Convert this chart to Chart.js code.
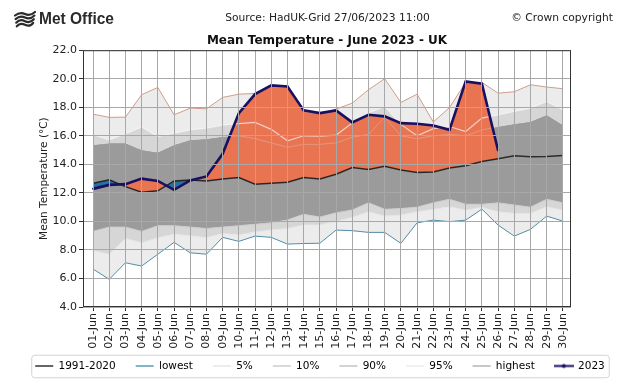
<!DOCTYPE html>
<html>
<head>
<meta charset="utf-8">
<script src="https://cdn.jsdelivr.net/npm/chart.js@4.4.1/dist/chart.umd.min.js"></script>
<style>
html, body { margin: 0; padding: 0; background: #fff; }
#wrap { width: 640px; height: 384px; }
</style>
</head>
<body>
<div id="wrap"><canvas id="chart" width="640" height="384"></canvas></div>
<script>
// days of June along the x axis
var days = ['01-Jun', '02-Jun', '03-Jun', '04-Jun', '05-Jun', '06-Jun', '07-Jun', '08-Jun', '09-Jun', '10-Jun',
  '11-Jun', '12-Jun', '13-Jun', '14-Jun', '15-Jun', '16-Jun', '17-Jun', '18-Jun', '19-Jun', '20-Jun',
  '21-Jun', '22-Jun', '23-Jun', '24-Jun', '25-Jun', '26-Jun', '27-Jun', '28-Jun', '29-Jun', '30-Jun'];

// daily values (deg C)
var mean9120 = [12.68, 12.91, 12.44, 12.05, 12.14, 12.84, 12.91, 12.84, 12.98, 13.08, 12.61, 12.68, 12.75, 13.08, 12.98,
  13.31, 13.78, 13.64, 13.87, 13.61, 13.43, 13.47, 13.75, 13.9, 14.2, 14.39, 14.6, 14.53, 14.55, 14.62];
var lowest = [6.66, 5.94, 7.1, 6.87, 7.7, 8.53, 7.8, 7.7, 8.88, 8.6, 8.97, 8.88, 8.41, 8.45, 8.47,
  9.39, 9.35, 9.23, 9.23, 8.46, 9.9, 10.09, 9.98, 10.09, 10.86, 9.74, 8.97, 9.44, 10.37, 10.02];
var pct5 = [7.95, 7.7, 8.8, 8.5, 8.85, 9.1, 9.0, 8.85, 9.15, 9.05, 9.25, 9.4, 9.5, 9.75, 9.75,
  10.0, 10.28, 10.67, 10.37, 10.44, 10.67, 10.84, 11.02, 10.79, 10.98, 10.67, 10.56, 10.56, 11.02, 10.79];
var pct10 = [9.3, 9.6, 9.6, 9.3, 9.7, 9.7, 9.6, 9.5, 9.6, 9.7, 9.8, 9.9, 10.1, 10.5, 10.3,
  10.6, 10.8, 11.3, 10.85, 10.9, 11.0, 11.3, 11.55, 11.2, 11.2, 11.3, 11.15, 11.0, 11.55, 11.3];
var pct90 = [15.37, 15.49, 15.49, 15.02, 14.85, 15.37, 15.72, 15.79, 15.95, 16.0, 15.8, 15.5, 15.2, 15.4, 15.4,
  15.5, 15.9, 16.1, 17.3, 16.0, 15.8, 16.0, 16.1, 16.0, 16.4, 16.65, 16.84, 17.0, 17.47, 16.77];
var pct95 = [16.07, 15.72, 16.14, 16.61, 15.95, 16.19, 16.42, 16.54, 16.75, 16.85, 16.94, 16.45, 15.65, 16.0, 15.98,
  16.05, 16.9, 17.6, 18.06, 16.8, 16.0, 16.5, 16.65, 16.3, 17.24, 17.47, 17.71, 17.94, 18.41, 17.82];
var highest = [17.52, 17.29, 17.31, 18.88, 19.39, 17.47, 17.94, 17.89, 18.69, 18.92, 18.97, 19.45, 19.4, 17.7, 17.55,
  17.87, 18.29, 19.23, 20.0, 18.34, 18.92, 16.97, 17.98, 19.75, 19.74, 18.99, 19.09, 19.58, 19.42, 19.3];
var temp2023 = [12.28, 12.56, 12.61, 13.0, 12.84, 12.21, 12.87, 13.15, 14.74, 17.59, 18.92, 19.53, 19.46, 17.78, 17.59,
  17.78, 16.94, 17.47, 17.36, 16.89, 16.84, 16.72, 16.42, 19.81, 19.65, 14.97, null, null, null, null];

var yTicks = [4, 6, 8, 10, 12, 14, 16, 18, 20, 22];

Chart.defaults.font.family = "'DejaVu Sans', sans-serif";
Chart.defaults.color = '#222';

function xy(arr) {
  return arr.map(function (v, i) { return {x: i, y: v}; });
}

// swatch for the 2023 entry: line with a marker
var sw2023 = document.createElement('canvas');
sw2023.width = 20; sw2023.height = 7;
(function () {
  var c = sw2023.getContext('2d');
  c.strokeStyle = '#1a1060'; c.lineWidth = 2;
  c.beginPath(); c.moveTo(0, 3.5); c.lineTo(20, 3.5); c.stroke();
  c.fillStyle = '#1a1060';
  c.beginPath(); c.arc(10, 3.5, 2, 0, Math.PI * 2); c.fill();
})();

var legendItems = [
  {text: '1991-2020', col: '#333333', w: 1.5},
  {text: 'lowest', col: '#5a9bb5', w: 1.5},
  {text: '5%', col: '#e6e6e6', w: 1.5},
  {text: '10%', col: '#cdcdcd', w: 1.5},
  {text: '90%', col: '#c4c4c4', w: 1.5},
  {text: '95%', col: '#ececec', w: 1.5},
  {text: 'highest', col: '#b5b5b5', w: 1.5},
  {text: '2023', col: '#1a1060', w: 2, img: sw2023}
];

var gridOpts = {
  color: '#a8a8a8',
  borderDash: [1, 2],
  lineWidth: 1,
  tickLength: 4,
  tickColor: '#333',
  tickWidth: 1,
  tickBorderDash: [1, 0],
  z: 1
};

//header texts, logo and the plot frame
var decor = {
  id: 'decor',
  afterLayout: function (chart) {
    var lg = chart.legend;
    var pad = lg.options.labels.padding;
    lg.top = 366 - pad - 10.5 / 2;
    lg.bottom = lg.top + lg.height;
    // let the rotated day labels use the room above the legend
    chart.scales.x.bottom = 356;
  },
  afterDraw: function (chart) {
    var c = chart.ctx, a = chart.chartArea;
    c.save();
    // plot spines
    c.strokeStyle = '#333';
    c.lineWidth = 1;
    c.strokeRect(a.left + 0.5, a.top + 0.5, a.right - a.left - 1, a.bottom - a.top - 1);

    // legend frame
    var hb = chart.legend.legendHitBoxes;
    if (hb && hb.length) {
      var last = hb[hb.length - 1];
      var l = hb[0].left - 4, r = last.left + last.width + 4;
      var t = hb[0].top - 6, b = hb[0].top + hb[0].height + 6;
      c.strokeStyle = '#d3d3d3';
      c.beginPath();
      c.roundRect(l + 0.5, t + 0.5, r - l, b - t, 3);
      c.stroke();
    }

    // Met Office logo
    c.strokeStyle = '#2b2b2b';
    c.lineWidth = 2.2;
    c.lineCap = 'round';
    for (var k = 0; k < 4; k++) {
      var y0 = 12.5 + k * 3.6;
      c.beginPath();
      c.moveTo(15 + k * 0.6, y0 + 3);
      c.quadraticCurveTo(20, y0 - 1, 25, y0 + 1.5);
      c.quadraticCurveTo(30, y0 + 4, 35 - k * 0.6, y0 - 0.5);
      c.stroke();
    }
    c.fillStyle = '#2b2b2b';
    c.font = "bold 17px 'Liberation Sans', sans-serif";
    c.textBaseline = 'middle';
    c.textAlign = 'left';
    var mw = c.measureText('Met Office').width;
    c.save();
    c.translate(39, 19);
    c.scale(75 / mw, 1);
    c.fillText('Met Office', 0, 0);
    c.restore();

    c.fillStyle = '#222';
    c.font = "10.7px 'DejaVu Sans', sans-serif";
    c.textAlign = 'center';
    c.fillText('Source: HadUK-Grid 27/06/2023 11:00', 327.5, 18);
    c.textAlign = 'right';
    c.fillText('\u00a9 Crown copyright', 613, 18);
    c.restore();
  }
};

var ctx = document.getElementById('chart').getContext('2d');
var chart = new Chart(ctx, {
  type: 'line',
  data: {
    datasets: [
      {label: '2023', data: xy(temp2023), borderColor: '#1a1060', borderWidth: 2.6, pointRadius: 1,
        pointBackgroundColor: '#1a1060', pointBorderWidth: 0, order: 0,
        fill: {target: 1, above: '#e97451', below: '#2471a6'}},
      {label: '1991-2020', data: xy(mean9120), borderColor: 'rgba(0,0,0,0.72)', borderWidth: 1.5, pointRadius: 0, order: 1, fill: false},
      {label: 'lowest', data: xy(lowest), borderColor: '#4f8ea8', borderWidth: 1, pointRadius: 0, order: 2, fill: false},
      {label: 'highest', data: xy(highest), borderColor: '#cf9d88', borderWidth: 1, pointRadius: 0, order: 3,
        fill: 4, backgroundColor: '#ececec'},
      {label: '95%', data: xy(pct95), borderColor: 'rgba(245,245,245,0.7)', borderWidth: 1.2, pointRadius: 0, order: 4,
        fill: 5, backgroundColor: '#d6d6d6'},
      {label: '90%', data: xy(pct90), borderColor: 'rgba(215,215,215,0.35)', borderWidth: 1, pointRadius: 0, order: 5,
        fill: 6, backgroundColor: '#9b9b9b'},
      {label: '10%', data: xy(pct10), borderColor: '#cdcdcd', borderWidth: 1, pointRadius: 0, order: 6,
        fill: 7, backgroundColor: '#d6d6d6'},
      {label: '5%', data: xy(pct5), borderColor: '#e6e6e6', borderWidth: 1, pointRadius: 0, order: 7,
        fill: 2, backgroundColor: '#ececec'}
    ]
  },
  options: {
    responsive: false,
    devicePixelRatio: 1,
    animation: false,
    events: [],
    layout: {padding: {top: 31.8, left: 0, right: 0, bottom: 0}},
    elements: {line: {tension: 0}},
    scales: {
      x: {
        type: 'linear',
        min: -0.62,
        max: 29.5,
        afterBuildTicks: function (s) { s.ticks = days.map(function (d, i) { return {value: i}; }); },
        ticks: {autoSkip: false, minRotation: 90, maxRotation: 90, padding: 2, font: {size: 11}, color: '#222',
          callback: function (v) { return days[v]; }},
        grid: gridOpts,
        border: {display: false},
        afterFit: function (s) { s.height = 384 - 307 - s.chart.legend.height; }
      },
      y: {
        min: 4,
        max: 22,
        afterBuildTicks: function (s) { s.ticks = yTicks.map(function (v) { return {value: v}; }); },
        ticks: {padding: 2, font: {size: 11}, color: '#222', callback: function (v) { return v.toFixed(1); }},
        grid: gridOpts,
        border: {display: false},
        title: {display: true, text: 'Mean Temperature (\u00b0C)', font: {size: 10.5}, color: '#222', padding: {top: 38, bottom: 0}},
        afterFit: function (s) { s.width = 83; }
      },
      y2: {
        position: 'right',
        min: 4,
        max: 22,
        ticks: {display: false},
        grid: {display: false, drawTicks: false},
        border: {display: false},
        afterFit: function (s) { s.width = 69; }
      }
    },
    plugins: {
      filler: {drawTime: 'beforeDatasetsDraw'},
      tooltip: {enabled: false},
      title: {
        display: true,
        fullSize: false,
        text: 'Mean Temperature - June 2023 - UK',
        font: {size: 12, weight: 'bold'},
        color: '#111',
        padding: {top: 2, bottom: 2}
      },
      legend: {
        display: true,
        position: 'bottom',
        onClick: null,
        labels: {
          usePointStyle: true,
          pointStyleWidth: 18,
          padding: 20,
          font: {size: 10.5},
          color: '#222',
          generateLabels: function () {
            return legendItems.map(function (it, i) {
              return {text: it.text, strokeStyle: it.col, fillStyle: it.col, lineWidth: it.w,
                pointStyle: it.img || 'line', hidden: false, datasetIndex: i};
            });
          }
        }
      }
    }
  },
  plugins: [decor]
});
</script>
</body>
</html>
